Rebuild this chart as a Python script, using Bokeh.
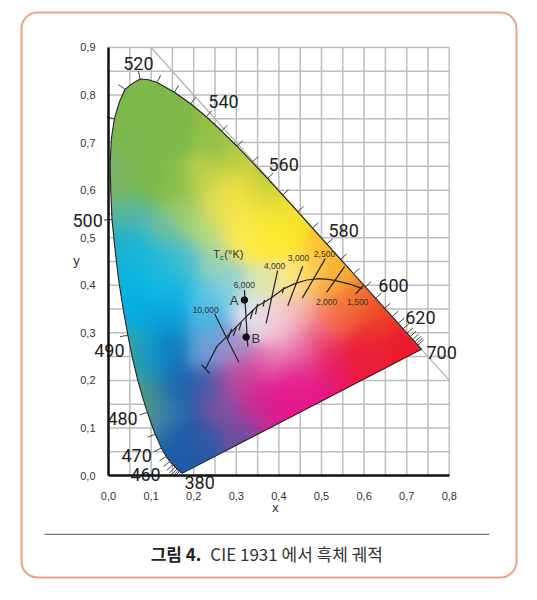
import numpy as np
from bokeh.plotting import figure
from bokeh.models import BoxAnnotation, FixedTicker
from bokeh.core.properties import value
from bokeh.embed import file_html
from bokeh.resources import INLINE

# Spectral locus (nm, x, y)
wl = [380,425,430,435,440,445,450,455,460,465,470,472.5,475,477.5,480,482.5,485,487.5,490,492.5,495,497.5,500,502.5,505,507.5,510,512.5,515,517.5,520,522.5,525,530,535,540,545,550,555,560,565,570,575,580,585,590,595,600,605,610,615,620,625,630,635,640,645,650,700]
lx = [.1741,.1703,.1689,.1669,.1644,.1611,.1566,.1510,.1440,.1355,.1241,.1175,.1096,.1011,.0913,.0802,.0687,.0567,.0454,.0340,.0235,.0150,.0082,.0053,.0039,.0066,.0139,.0249,.0389,.0563,.0743,.0941,.1142,.1547,.1929,.2296,.2658,.3016,.3373,.3731,.4087,.4441,.4788,.5125,.5448,.5752,.6029,.6270,.6482,.6658,.6801,.6915,.7006,.7079,.7140,.7190,.7230,.7260,.7347]
ly = [.0050,.0058,.0069,.0086,.0109,.0138,.0177,.0227,.0297,.0399,.0578,.0712,.0868,.1078,.1327,.1644,.2007,.2454,.2950,.3527,.4127,.4777,.5384,.5982,.6548,.7074,.7502,.7840,.8120,.8245,.8338,.8320,.8262,.8059,.7816,.7543,.7243,.6923,.6589,.6245,.5896,.5547,.5202,.4866,.4544,.4242,.3965,.3725,.3514,.3340,.3197,.3083,.2993,.2920,.2859,.2809,.2770,.2740,.2653]
tick_wl = [435,440,445,450,455,460,465,470,475,480,490,500,510,515,520,525,530,535,540,545,550,555,560,565,570,575,580,585,590,595,600,605,610,615,620,625,630,635,640,645,650]

wave_labels = ["520","540","560","580","600","620","700","500","490","480","470","460","380"]
wave_x = [.070,.270,.411,.552,.669,.732,.782,-.049,.002,.033,.066,.087,.214]
wave_y = [.866,.786,.654,.515,.399,.332,.259,.536,.263,.120,.042,.002,-.015]

# Planckian locus
px = [.228,.255,.279,.319,.349,.380,.412,.439,.466,.494,.521,.545,.568,.596]
py = [.225,.272,.293,.330,.356,.372,.393,.404,.411,.414,.412,.407,.402,.393]
iso_x0 = [.249,.319,.397,.456,.509,.554,.598,.218,.280,.293,.306,.333,.345,.363,.408]
iso_y0 = [.340,.390,.431,.440,.456,.439,.399,.233,.287,.294,.305,.329,.339,.355,.383]
iso_x1 = [.306,.327,.370,.421,.455,.512,.580,.237,.289,.300,.312,.339,.350,.366,.412]
iso_y1 = [.238,.271,.320,.357,.373,.385,.382,.215,.308,.311,.322,.347,.361,.369,.396]
temp_labels = ["10,000","6,000","4,000","3,000","2,500","2,000","1,500"]
temp_x = [.228,.319,.390,.446,.507,.512,.585]
temp_y = [.347,.401,.441,.458,.466,.365,.365]
pt_x = [.319,.323]
pt_y = [.369,.291]
pt_labels = ["A","B"]
ptl_x = [.295,.346]
ptl_y = [.369,.288]

x_ticks = [0,.1,.2,.3,.4,.5,.6,.7,.8]
x_tick_labels = ["0,0","0,1","0,2","0,3","0,4","0,5","0,6","0,7","0,8"]
y_ticks = [0,.1,.2,.3,.4,.5,.6,.7,.8,.9]
y_tick_labels = ["0,0","0,1","0,2","0,3","0,4","0,5","0,6","0,7","0,8","0,9"]
grid_x = [.05,.1,.15,.2,.25,.3,.35,.4,.45,.5,.55,.6,.65,.7,.75,.8]
grid_y = [.05,.1,.15,.2,.25,.3,.35,.4,.45,.5,.55,.6,.65,.7,.75,.8,.85,.9]

# colours read at positions of the diagram
color_samples = [
 (.07,.80,"#7cb84a"),(.05,.70,"#7cb84c"),(.15,.72,"#80b94a"),(.25,.70,"#96c148"),(.01,.65,"#7db866"),
 (.07,.627,"#7cb94b"),(.01,.614,"#7db46a"),(.04,.55,"#56b7a0"),(.024,.488,"#20b0cc"),(.07,.467,"#17b6dc"),
 (.127,.509,"#6cc0a0"),(.188,.55,"#a0cc70"),(.165,.605,"#86bd4a"),(.25,.572,"#e6de4c"),(.228,.62,"#c4d24e"),
 (.305,.60,"#f6e445"),(.228,.515,"#b7d97e"),(.305,.50,"#fdea5a"),(.18,.458,"#55c0c8"),(.25,.452,"#a0d4b0"),
 (.07,.395,"#00b5e8"),(.15,.383,"#0cb4e6"),(.228,.374,"#55c4e8"),(.28,.396,"#8ed0d8"),(.36,.403,"#dce4b0"),
 (.338,.34,"#dfe8f2"),(.385,.326,"#f4d0e0"),(.432,.29,"#eb9dc3"),(.07,.326,"#04a8e0"),(.15,.326,"#0b9fd8"),
 (.228,.326,"#4db4e4"),(.085,.277,"#0e9ad0"),(.15,.27,"#1078bb"),(.228,.27,"#6f9fd6"),(.29,.27,"#a58cc6"),
 (.047,.27,"#5ca77a"),(.073,.185,"#5fb06a"),(.087,.151,"#8ab54a"),(.11,.122,"#4a8cae"),(.15,.185,"#1a66ae"),
 (.228,.185,"#3f5ca8"),(.29,.185,"#a74a9e"),(.345,.185,"#e0188e"),(.42,.185,"#e61a8c"),(.15,.08,"#1c5ea8"),
 (.228,.08,"#2f5aa6"),(.305,.095,"#6e4f9e"),(.175,.01,"#2059a6"),(.268,.137,"#82509f"),(.345,.137,"#c03094"),
 (.365,.62,"#b0c83c"),(.333,.60,"#e0dc40"),(.38,.572,"#e4dc38"),(.42,.50,"#fde92a"),(.365,.50,"#fee93c"),
 (.50,.48,"#fdc42b"),(.528,.445,"#f9b233"),(.467,.431,"#fde06a"),(.42,.41,"#fde889"),(.514,.395,"#f9a53a"),
 (.585,.36,"#f47a2c"),(.631,.34,"#ee4b2c"),(.52,.326,"#f57a66"),(.585,.263,"#ea1f3e"),(.678,.263,"#ec1c2e"),
 (.458,.347,"#f6b7a8"),(.41,.332,"#f4c8d4"),(.52,.22,"#e7176d"),(.458,.242,"#e5589f"),(.38,.235,"#e57ab4"),
 (.326,.206,"#c85ca8"),(.38,.164,"#e3178d"),(.467,.193,"#e6188c"),(.60,.24,"#ea1c3c"),(.622,.30,"#eb2a30"),
 (.72,.27,"#ec1c2c"),(.30,.66,"#b8cc42"),(.43,.56,"#f2e030"),
 (.10,.18,"#1a7cc0"),(.09,.23,"#0a96d4"),(.115,.15,"#2070b4"),(.05,.33,"#10aedc"),(.04,.42,"#10b4d8"),
 (.33,.55,"#fdea40"),(.38,.52,"#fde92f"),(.28,.55,"#f0e25a"),(.12,.42,"#18b8e0"),(.15,.44,"#2ebcd8"),
 (.10,.45,"#20b8d8"),(.55,.33,"#f15a3a"),(.48,.29,"#ec5f8c"),(.52,.26,"#e8285c"),
]
cx = [s[0] for s in color_samples]
cy = [s[1] for s in color_samples]
cc = [s[2] for s in color_samples]

def hexrgb(h):
    return [int(h[i:i+2], 16) for i in (1, 3, 5)]

# figure frame covers the whole page area
W, H = 525, 590
X0, Y0, SX, SY = 108, 475, 426.0, 475.6
p = figure(width=W, height=H, toolbar_location=None, output_backend="svg",
           x_range=(-X0/SX, (W-X0)/SX), y_range=(-(H-Y0)/SY, Y0/SY), min_border=0)
p.outline_line_color = None
p.background_fill_color = "white"
p.grid.visible = False

# grid
n_v, n_h = len(grid_x), len(grid_y)
p.segment(grid_x, [0]*n_v, grid_x, [.9]*n_v, line_color="#bdbdbd", line_width=1.5)
p.segment([0]*n_h, grid_y, [.8]*n_h, grid_y, line_color="#bdbdbd", line_width=1.5)

lxa, lya = np.array(lx), np.array(ly)

# gradient image
step = 1/SX
gx = np.arange(0, .76, step)
gy = np.arange(0, .86, 1/SY)
GX, GY = np.meshgrid(gx, gy)
cols = np.array([hexrgb(c) for c in cc], float)
d2 = (GX[..., None]-np.array(cx))**2 + (GY[..., None]-np.array(cy))**2
w = np.exp(-d2/(2*.03**2)) + 1e-12
rgb = (w[..., None]*cols).sum(2)/w.sum(2, keepdims=True)

SS = 3
fx = (np.arange(len(gx)*SS)+.5)/SS*step - step/2
fy = (np.arange(len(gy)*SS)+.5)/SS/SY - .5/SY
FX, FY = np.meshgrid(fx, fy)
inside = np.zeros(FX.shape, bool)
for i in range(len(lxa)):
    xa, ya, xb, yb = lxa[i], lya[i], lxa[i-1], lya[i-1]
    cond = (ya > FY) != (yb > FY)
    with np.errstate(divide="ignore", invalid="ignore"):
        xint = (xb-xa)*(FY-ya)/(yb-ya)+xa
    inside ^= cond & (FX < xint)
alpha = inside.reshape(len(gy), SS, len(gx), SS).mean(axis=(1, 3))
img = np.zeros((len(gy), len(gx), 4), np.uint8)
img[..., :3] = rgb.clip(0, 255)
img[..., 3] = (alpha*255).astype(np.uint8)
img32 = img.view(np.uint32).reshape(len(gy), len(gx))
p.image_rgba(image=[img32], x=gx[0]-step/2, y=gy[0]-.5/SY, dw=len(gx)*step, dh=len(gy)/SY)

# axes
xax = p.xaxis[0]
yax = p.yaxis[0]
xax.fixed_location = 0
yax.fixed_location = 0
xax.ticker = FixedTicker(ticks=x_ticks)
yax.ticker = FixedTicker(ticks=y_ticks)
xax.major_label_overrides = dict(zip(x_ticks, x_tick_labels))
yax.major_label_overrides = dict(zip(y_ticks, y_tick_labels))
xax.bounds = (0, .8)
yax.bounds = (0, .9)
for ax in (xax, yax):
    ax.axis_line_color = "#111111"
    ax.axis_line_width = 2.5
    ax.major_tick_line_color = None
    ax.minor_tick_line_color = None
    ax.major_label_text_font = "Liberation Sans"
    ax.major_label_text_font_size = "11px"
    ax.major_label_text_color = "#333333"
xax.major_label_standoff = 10
yax.major_label_standoff = 7

# card and separator
card = BoxAnnotation(left=21, right=516, top=13, bottom=578,
                     left_units="screen", right_units="screen", top_units="screen", bottom_units="screen",
                     fill_alpha=0, line_color="#e8a585", line_alpha=1, line_width=2, border_radius=16, level="image")
p.add_layout(card)
p.line([-.150, .894], [-.124, -.124], line_color="#777777", line_width=1.2)

# x + y = 1 line
p.line([.10, .80], [.90, .20], line_color="#b5b5b5", line_width=1.3)

# locus + wavelength ticks
p.line(lx+[lx[0]], ly+[ly[0]], line_color="#222222", line_width=1.1, line_join="round")
sxa, sya = lxa*SX, lya*SY
tx0, ty0, tx1, ty1 = [], [], [], []
for wv in tick_wl:
    i = wl.index(wv)
    dx, dy = sxa[i+1]-sxa[i-1], sya[i+1]-sya[i-1]
    n = np.hypot(dx, dy)
    nx, ny = -dy/n, dx/n
    L = 8
    tx0.append(lx[i]); ty0.append(ly[i])
    tx1.append(lx[i]+nx*L/SX); ty1.append(ly[i]+ny*L/SY)
p.segment(tx0, ty0, tx1, ty1, line_color="#444444", line_width=1)

# Planckian
p.line(px, py, line_color="#222222", line_width=1.2, line_join="round")
p.segment(iso_x0, iso_y0, iso_x1, iso_y1, line_color="#222222", line_width=1.2)
p.scatter(pt_x, pt_y, size=6.5, color="#111111")

# texts
p.text(wave_x, wave_y, text=wave_labels, text_font=value("Roboto"), text_font_size="18px",
       text_align="center", text_baseline="middle", text_color="#222222")
p.text(temp_x, temp_y, text=temp_labels, text_font=value("Liberation Sans"), text_font_size="8.5px",
       text_align="center", text_baseline="middle", text_color="#333333")
p.text(ptl_x, ptl_y, text=pt_labels, text_font=value("Liberation Sans"), text_font_size="13px",
       text_align="center", text_baseline="middle", text_color="#333333")
p.text([.246], [.465], text=["T"], text_font=value("Liberation Sans"), text_font_size="11px",
       text_align="left", text_baseline="middle", text_color="#333333")
p.text([.262], [.459], text=["c"], text_font=value("Liberation Sans"), text_font_size="7px",
       text_align="left", text_baseline="middle", text_color="#333333")
p.text([.272], [.465], text=["(°K)"], text_font=value("Liberation Sans"), text_font_size="11px",
       text_align="left", text_baseline="middle", text_color="#333333")
p.text([.392], [-.067], text=["x"], text_font=value("Liberation Sans"), text_font_size="13px",
       text_align="center", text_baseline="middle", text_color="#333333")
p.text([-.075], [.452], text=["y"], text_font=value("Liberation Sans"), text_font_size="13px",
       text_align="center", text_baseline="middle", text_color="#333333")
p.text([.099], [-.164], text=["그림 4."], text_font=value("Noto Sans CJK KR"), text_font_size="17px",
       text_font_style="bold", text_align="left", text_baseline="middle", text_color="#222222")
p.text([.239], [-.164], text=["CIE 1931 에서 흑체 궤적"], text_font=value("Noto Sans CJK KR"), text_font_size="17px",
       text_align="left", text_baseline="middle", text_color="#333333")

open("out.html", "w").write(file_html(p, INLINE))
